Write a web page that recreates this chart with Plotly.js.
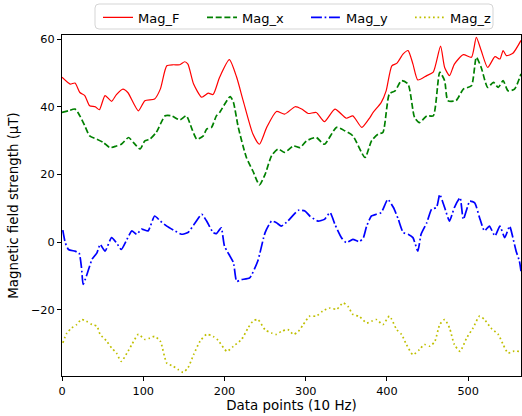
<!DOCTYPE html>
<html><head><meta charset="utf-8">
<script src="https://cdn.plot.ly/plotly-3.0.1.min.js"></script>
<style>html,body{margin:0;padding:0;background:#fff}#c{width:522px;height:416px}</style>
</head><body><div id="c"></div>
<script>
const magF_x = [0,10,16,22,28,34,41,46,53,61,67,75,81,94,102,114,121,129,137,145,151,155,162,172,180,186,194,206,215,223,235,243,252,264,274,287,295,303,313,323,336,350,358,369,379,383,393,399,406,412,420,426,432,438,449,457,466,471,477,483,494,504,510,516,524,533,539,543,547,555,565];
const magF_y = [48.7,46.7,47,44.2,43.3,40.3,40,39.1,43.3,41.6,43.6,45.2,44.2,38.8,41.8,42.3,45.2,52.1,52.4,52.4,53.3,52.6,46.7,42.8,44,43.6,48.7,53.9,48.7,41.8,31.9,28.9,33.9,38.6,37.8,40,39.3,38,38.3,35.6,39.3,36.6,37.3,33.9,36.8,38.3,41.3,44.7,52.1,52.8,55.6,56.6,52.6,47.9,49.2,50.2,57.9,51.6,49.2,52.6,55.4,54.6,60.5,56.6,51.6,54.8,54.1,56.6,55.1,55.8,59.6];

const magX_x = [0,8,16,22,28,34,43,51,59,67,73,82,88,96,102,108,116,127,135,145,153,160,166,174,178,184,190,194,207,211,217,227,235,243,250,258,266,274,285,293,301,313,323,338,348,358,373,381,389,395,403,410,418,426,434,440,449,457,465,471,475,485,494,504,510,516,524,531,537,543,549,557,565];
const magX_y = [38.3,38.8,39.3,37.3,34.4,31.4,30.4,29.4,27.9,28.4,28.9,30.9,29.4,27.5,29.9,30.4,32.4,37.3,37.3,36.1,37.3,33.4,30.4,31.4,33.4,33.9,37.3,38.3,43,41.3,33.9,25,21,16.9,20,25.5,27.5,26.5,28.4,27.9,29.9,30.9,28.9,33.9,32.9,31.4,25,29.9,31.9,32.4,43.8,44.7,47.7,46.7,36.8,35.3,37.3,37.3,50.2,47.7,41.8,41.8,45.2,46.2,54.6,51.6,45.7,47.2,45.7,47.7,44.7,45.2,49.7];

const magY_x = [1,4,8,16,21,24,26,30,37,43,47,53,61,67,73,80,86,92,98,106,114,121,129,139,147,155,164,172,178,186,190,196,200,211,215,221,231,241,250,258,264,270,278,291,299,305,315,323,330,336,344,350,358,366,371,375,381,387,393,401,408,414,420,426,432,438,442,449,455,461,465,471,477,483,490,494,502,508,514,520,526,533,539,545,551,555,559,563,565];
const magY_y = [3.5,-0.2,-2.2,-2.7,-3.2,-7.6,-12.5,-10.1,-5.1,-3.2,-0.7,-2.7,1.3,-0.2,-2.2,0.8,3.3,2.3,3.8,3.3,7.7,6.2,4.7,3.3,2.3,2.8,5.7,8.2,6.2,2.8,2.5,4.2,-1.2,-6.1,-11.6,-11.1,-10.6,-5.6,2.8,6.2,5.7,4.7,6.2,9.4,9.2,7.7,6.2,6.7,8.7,5.2,1.3,-0.2,0.8,0.1,1.3,4.7,7.7,8.2,8.7,12.6,10.2,6.7,2.8,2.3,1.3,-2.7,2.3,5.7,9.7,10.2,14.1,10.2,6.2,10.2,13.1,6.7,12.1,11.6,7.2,3.3,4.7,1.8,4.7,1.3,4.7,1.3,-2.7,-5.6,-8.6];

const magZ_x = [1,6,12,18,24,30,37,43,47,55,61,67,73,80,86,94,102,108,114,121,129,137,143,149,155,162,170,178,186,192,203,211,221,229,235,241,250,258,264,270,278,285,291,297,305,313,321,330,338,346,352,358,366,375,381,387,395,403,412,418,424,432,440,446,453,459,465,471,477,483,490,498,506,514,520,528,537,543,549,555,563];
const magZ_y = [-29.8,-26.9,-25.4,-24.4,-22.9,-23.4,-24.4,-24.9,-27.3,-29.3,-31.3,-32.8,-35.3,-32.8,-30.3,-27.3,-28.8,-28.4,-27.9,-29.3,-35.8,-36.7,-37.7,-38.5,-37.2,-33.3,-29.3,-27.3,-27.9,-29,-32.3,-30.8,-28.8,-25.4,-23.4,-22.9,-25.9,-26.9,-27.3,-26.4,-25.9,-27.3,-26.4,-24.4,-21.9,-21.9,-20.4,-19.5,-19.9,-18,-19,-21.4,-22,-23.9,-23.4,-22.9,-24.4,-21.9,-25.9,-27.3,-30.3,-33.3,-31.8,-30.3,-30.8,-29.3,-24.4,-22.9,-25.4,-30.3,-32.3,-28.4,-25.4,-21.9,-22.9,-25.4,-27.3,-30.3,-32.8,-32.3,-32.3];

const xTicks = [0,100,200,300,400,500];
const yTicks = [-20,0,20,40,60];

const traces = [
  {x: magF_x, y: magF_y, name: 'Mag_F', mode: 'lines', line: {color: '#ff0000', width: 1.2, shape: 'spline', smoothing: 0.6}},
  {x: magX_x, y: magX_y, name: 'Mag_x', mode: 'lines', line: {color: '#008000', width: 1.7, dash: '6px,2.7px', shape: 'spline', smoothing: 0.6}},
  {x: magY_x, y: magY_y, name: 'Mag_y', mode: 'lines', line: {color: '#0000ff', width: 1.7, dash: '10.9px,2.7px,1.7px,2.7px', shape: 'spline', smoothing: 0.5}},
  {x: magZ_x, y: magZ_y, name: 'Mag_z', mode: 'lines', line: {color: '#bfbf00', width: 1.7, dash: '1.7px,2.8px', shape: 'spline', smoothing: 0.6}}
];

const fam = 'DejaVu Sans, sans-serif';
const tickFont = {family: fam, size: 11.3, color: '#000'};
const titleFont = {family: fam, size: 13.4, color: '#000'};
const legFont = {family: fam, size: 13, color: '#000'};
// paper coordinates helpers for the legend frame (plot area: x 62..521, y 35..376)
const px2x = p => (p - 62) / 459;
const py2y = p => (376 - p) / 341;
const L = px2x(95), R = px2x(493), T = py2y(4), B = py2y(29);
const rx = 4 / 459, ry = 4 / 341;
const framePath = `M ${L+rx},${T} L ${R-rx},${T} Q ${R},${T} ${R},${T-ry} L ${R},${B+ry} Q ${R},${B} ${R-rx},${B} L ${L+rx},${B} Q ${L},${B} ${L},${B+ry} L ${L},${T-ry} Q ${L},${T} ${L+rx},${T} Z`;

const layout = {
  width: 522, height: 416,
  margin: {l: 62, r: 1, t: 35, b: 40, pad: 0},
  paper_bgcolor: '#fff', plot_bgcolor: '#fff',
  font: tickFont,
  showlegend: true,
  legend: {orientation: 'h', x: px2x(98), xanchor: 'left', y: py2y(2.5), yanchor: 'top',
    borderwidth: 0, bgcolor: 'rgba(0,0,0,0)', font: legFont,
    entrywidth: 104 / 459, entrywidthmode: 'fraction', itemwidth: 30, tracegroupgap: 0},
  shapes: [{type: 'path', xref: 'paper', yref: 'paper', path: framePath,
    line: {color: '#d5d5d5', width: 1}, fillcolor: '#ffffff', layer: 'above'}],
  xaxis: {range: [0, 565], tickvals: xTicks, ticks: 'outside', ticklen: 4, tickwidth: 1, tickcolor: '#000',
    showline: true, linecolor: '#000', linewidth: 1, mirror: true, showgrid: false, zeroline: false,
    tickfont: tickFont,
    title: {text: 'Data points (10 Hz)', font: titleFont, standoff: 3}},
  yaxis: {range: [-39.6, 61.2], tickvals: yTicks, ticks: 'outside', ticklen: 4, tickwidth: 1, tickcolor: '#000',
    showline: true, linecolor: '#000', linewidth: 1, mirror: true, showgrid: false, zeroline: false,
    tickfont: tickFont,
    title: {text: 'Magnetic field strength (μT)', font: titleFont, standoff: 9}}
};
Plotly.newPlot('c', traces, layout, {displayModeBar: false, staticPlot: true});
</script></body></html>
